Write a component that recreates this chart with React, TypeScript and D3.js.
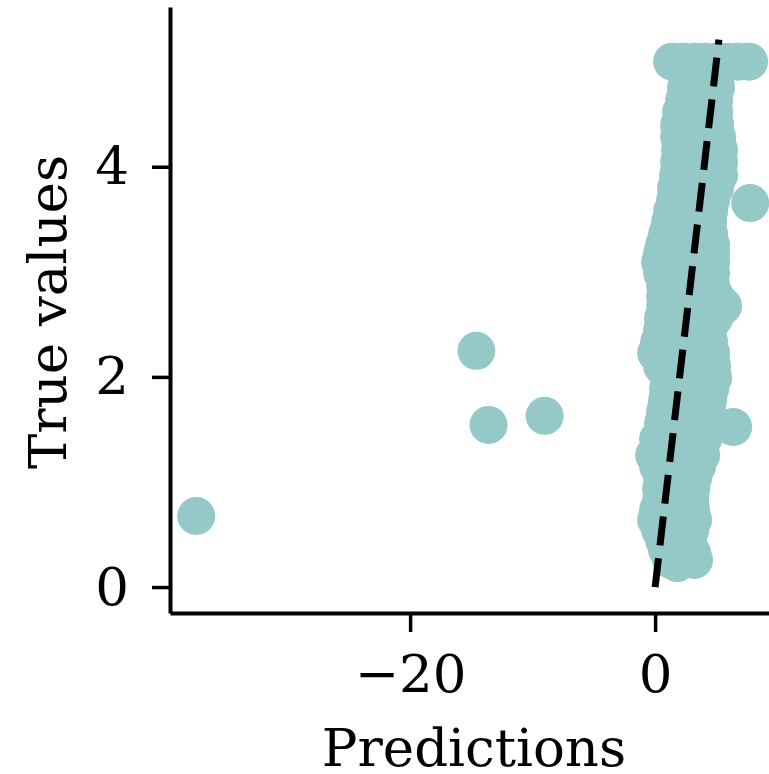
import { useEffect, useRef } from 'react';
import * as d3 from 'd3';

// Predicted vs true values
const predictions = [
  // outliers
  -37.46, -14.59, -13.6, -9.02,
  // top row at the cap
  1.39, 2.29, 3.18, 4.08, 4.98, 5.88, 6.78, 7.67,
  // main band, row by row (left, middle, right)
  2.53, 3.76, 4.98,
  2.37, 3.59, 4.82,
  2.12, 3.43, 4.82,
  1.96, 3.43, 4.9,
  1.96, 3.47, 5.06,
  2.04, 3.67, 5.22,
  1.96, 3.59, 5.22,
  1.88, 3.51, 5.22,
  1.71, 3.35, 4.9,
  1.63, 3.1, 4.57, 7.76,
  1.39, 2.86, 4.41,
  1.22, 2.78, 4.33,
  0.98, 2.69, 4.41,
  0.73, 2.61, 4.57,
  0.57, 2.53, 4.57,
  0.41, 2.45, 4.57,
  0.57, 2.61, 4.57,
  0.82, 2.69, 4.57,
  0.82, 2.86, 4.9,
  0.82, 3.18, 5.55,
  0.65, 2.69, 4.82,
  0.57, 2.45, 4.33,
  0.33, 2.37, 4.41,
  0.08, 2.29, 4.57,
  0.57, 2.61, 4.65,
  1.14, 2.94, 4.73,
  1.06, 2.78, 4.49,
  0.98, 2.61, 4.33,
  0.82, 2.53, 4.24,
  0.65, 2.37, 4.08, 6.37,
  0.24, 2.12, 3.92,
  -0.08, 1.88, 3.76,
  0.24, 1.88, 3.43,
  0.57, 1.8, 3.1,
  0.49, 1.8, 2.94,
  0.49, 1.63, 2.86,
  0.24, 1.71, 2.94,
  0.08, 1.63, 3.1,
  0.41, 1.63, 2.86,
  0.73, 1.71, 2.69,
  0.98, 2.45,
  1.31, 3.18,
  1.8, 3.02,
];

const trueValues = [
  0.676, 2.248, 1.543, 1.629,
  5.0, 5.0, 5.0, 5.0, 5.0, 5.0, 5.0, 5.0,
  4.758, 4.758, 4.758,
  4.635, 4.635, 4.635,
  4.52, 4.52, 4.52,
  4.397, 4.397, 4.397,
  4.282, 4.282, 4.282,
  4.159, 4.159, 4.159,
  4.045, 4.045, 4.045,
  3.921, 3.921, 3.921,
  3.797, 3.797, 3.797,
  3.683, 3.683, 3.683, 3.654,
  3.578, 3.578, 3.578,
  3.474, 3.474, 3.474,
  3.359, 3.359, 3.359,
  3.255, 3.255, 3.255,
  3.179, 3.179, 3.179,
  3.093, 3.093, 3.093,
  2.988, 2.988, 2.988,
  2.874, 2.874, 2.874,
  2.769, 2.769, 2.769,
  2.674, 2.674, 2.674,
  2.56, 2.56, 2.56,
  2.446, 2.446, 2.446,
  2.332, 2.332, 2.332,
  2.227, 2.227, 2.227,
  2.103, 2.103, 2.103,
  1.989, 1.989, 1.989,
  1.884, 1.884, 1.884,
  1.78, 1.78, 1.78,
  1.675, 1.675, 1.675,
  1.561, 1.561, 1.561, 1.523,
  1.408, 1.408, 1.408,
  1.256, 1.256, 1.256,
  1.152, 1.152, 1.152,
  1.037, 1.037, 1.037,
  0.933, 0.933, 0.933,
  0.828, 0.828, 0.828,
  0.733, 0.733, 0.733,
  0.638, 0.638, 0.638,
  0.542, 0.542, 0.542,
  0.447, 0.447, 0.447,
  0.352, 0.352,
  0.257, 0.257,
  0.228, 0.324,
];

// ideal fit line
const fitLine = [0, 5.21];

const xTicks = [-20, 0];
const yTicks = [0, 2, 4];

const W = 769;
const H = 774;
const FONT = '"DejaVu Serif", serif';

export default function App() {
  const svgRef = useRef<SVGSVGElement>(null);

  useEffect(() => {
    if (!svgRef.current) return;
    const svg = d3.select(svgRef.current);
    svg.selectAll('*').remove();

    const x = d3.scaleLinear().domain([-39.6, 9.5]).range([170, 771.5]);
    const y = d3.scaleLinear().domain([-0.247, 5.52]).range([613, 7]);

    const pts = predictions.map((p, i) => ({ p, t: trueValues[i] }));

    svg.append('g')
      .selectAll('circle')
      .data(pts)
      .join('circle')
      .attr('cx', d => x(d.p))
      .attr('cy', d => y(d.t))
      .attr('r', 19)
      .attr('fill', '#94c9c8');

    const line = d3.line<number>()
      .x(d => x(d))
      .y(d => y(d));

    svg.append('path')
      .datum(fitLine)
      .attr('fill', 'none')
      .attr('stroke', '#000')
      .attr('stroke-width', 7)
      .attr('stroke-dasharray', '29 13')
      .attr('d', line);

    // axes
    const fmt = d3.format('d');
    const gx = svg.append('g')
      .attr('transform', 'translate(0,613)')
      .call(d3.axisBottom(x).tickValues(xTicks).tickFormat(d => fmt(d as number))
        .tickSize(19).tickSizeOuter(0).tickPadding(22));

    const gy = svg.append('g')
      .attr('transform', 'translate(170,0)')
      .call(d3.axisLeft(y).tickValues(yTicks).tickFormat(d => fmt(d as number))
        .tickSize(18).tickSizeOuter(0).tickPadding(23));

    [gx, gy].forEach(g => {
      g.select('.domain').attr('stroke', '#000').attr('stroke-width', 4);
      g.selectAll('.tick line').attr('stroke', '#000').attr('stroke-width', 3.5);
      g.selectAll('.tick text')
        .attr('fill', '#000')
        .style('font-family', FONT)
        .style('font-size', '53px');
    });

    svg.append('text')
      .attr('x', 474)
      .attr('y', 766)
      .attr('text-anchor', 'middle')
      .style('font-family', FONT)
      .style('font-size', '53px')
      .text('Predictions');

    svg.append('text')
      .attr('transform', 'translate(66,312) rotate(-90)')
      .attr('text-anchor', 'middle')
      .style('font-family', FONT)
      .style('font-size', '53px')
      .text('True values');
  }, []);

  return (
    <div style={{ position: 'absolute', left: 0, top: 0, width: W, height: H, background: '#fff' }}>
      <svg ref={svgRef} width={W} height={H} />
    </div>
  );
}
